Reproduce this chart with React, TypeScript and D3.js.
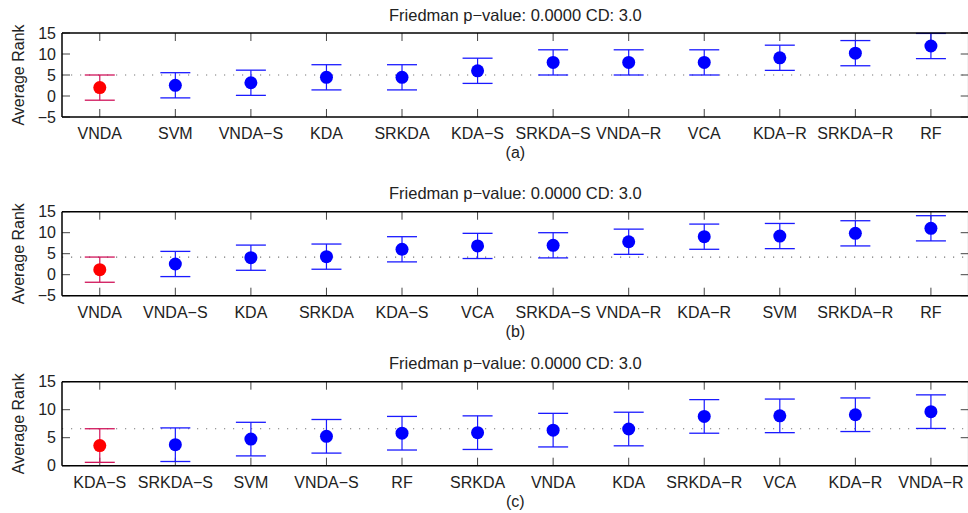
import React from "react";
import * as d3 from "d3";

const CD = 3.0;
const titleText = "Friedman p−value: 0.0000 CD: 3.0";

const catsA = ["VNDA", "SVM", "VNDA−S", "KDA", "SRKDA", "KDA−S", "SRKDA−S", "VNDA−R", "VCA", "KDA−R", "SRKDA−R", "RF"];
const ranksA = [2.0, 2.55, 3.15, 4.45, 4.45, 6.0, 8.0, 8.0, 8.0, 9.1, 10.2, 11.9];

const catsB = ["VNDA", "VNDA−S", "KDA", "SRKDA", "KDA−S", "VCA", "SRKDA−S", "VNDA−R", "KDA−R", "SVM", "SRKDA−R", "RF"];
const ranksB = [1.2, 2.55, 4.05, 4.3, 6.05, 6.85, 7.0, 7.85, 9.05, 9.2, 9.85, 11.05];

const catsC = ["KDA−S", "SRKDA−S", "SVM", "VNDA−S", "RF", "SRKDA", "VNDA", "KDA", "SRKDA−R", "VCA", "KDA−R", "VNDA−R"];
const ranksC = [3.6, 3.75, 4.75, 5.25, 5.8, 5.9, 6.35, 6.55, 8.8, 8.9, 9.1, 9.65];

const ticksAB = [-5, 0, 5, 10, 15];
const ticksC = [0, 5, 10, 15];
const panelLabels = ["(a)", "(b)", "(c)"];

const FONT = "'Liberation Sans', Arial, Helvetica, sans-serif";
const W = 968;
const H = 513;
const LEFT = 62;
const RIGHT = 968.7;
const PH = 84;

type PanelProps = {
  top: number;
  cats: string[];
  ranks: number[];
  yTicks: number[];
  label: string;
};

function Panel({ top, cats, ranks, yTicks, label }: PanelProps) {
  const x = d3.scaleLinear().domain([0.5, cats.length + 0.5]).range([LEFT, RIGHT]);
  const y = d3
    .scaleLinear()
    .domain([yTicks[0], yTicks[yTicks.length - 1]])
    .range([top + PH, top]);
  const thr = ranks[0] + CD;
  const tickLen = 8;
  const cx = (LEFT + RIGHT) / 2;
  return (
    <g>
      <text x={cx} y={top - 12.5} fontSize={16.5} textAnchor="middle" fill="#222" fontFamily={FONT}>
        {titleText}
      </text>
      {cats.map((c, i) => (
        <g key={"xt" + i}>
          <line x1={x(i + 1)} x2={x(i + 1)} y1={top + PH} y2={top + PH - tickLen} stroke="#444" strokeWidth={1} />
          <line x1={x(i + 1)} x2={x(i + 1)} y1={top} y2={top + tickLen} stroke="#444" strokeWidth={1} />
          <text x={x(i + 1)} y={top + PH + 22} fontSize={16} textAnchor="middle" fill="#222" fontFamily={FONT}>
            {c}
          </text>
        </g>
      ))}
      {yTicks.map((t) => (
        <g key={"yt" + t}>
          <line x1={LEFT} x2={LEFT + tickLen} y1={y(t)} y2={y(t)} stroke="#444" strokeWidth={1} />
          <line x1={RIGHT} x2={RIGHT - tickLen} y1={y(t)} y2={y(t)} stroke="#444" strokeWidth={1} />
          <text x={56} y={y(t) + 5.5} fontSize={16} textAnchor="end" fill="#222" fontFamily={FONT}>
            {t < 0 ? "−" + Math.abs(t) : t}
          </text>
        </g>
      ))}
      <line x1={LEFT} x2={RIGHT} y1={y(thr)} y2={y(thr)} stroke="#777" strokeWidth={1.2} strokeDasharray="1.2,7.8" />
      {ranks.map((r, i) => {
        const col = i === 0 ? "#d0145a" : "#1a1aff";
        const px = x(i + 1);
        return (
          <g key={"eb" + i}>
            <line x1={px} x2={px} y1={y(r - CD)} y2={y(r + CD)} stroke={col} strokeWidth={1.2} />
            <line x1={px - 15} x2={px + 15} y1={y(r - CD)} y2={y(r - CD)} stroke={col} strokeWidth={1.3} />
            <line x1={px - 15} x2={px + 15} y1={y(r + CD)} y2={y(r + CD)} stroke={col} strokeWidth={1.3} />
            <circle cx={px} cy={y(r)} r={6.5} fill={i === 0 ? "#ff0000" : "#0000ff"} />
          </g>
        );
      })}
      <line x1={LEFT} x2={RIGHT} y1={top} y2={top} stroke="#000" strokeWidth={1.5} />
      <line x1={LEFT} x2={RIGHT} y1={top + PH} y2={top + PH} stroke="#000" strokeWidth={1.5} />
      <line x1={LEFT} x2={LEFT} y1={top} y2={top + PH} stroke="#000" strokeWidth={1.5} />
      <line x1={RIGHT} x2={RIGHT} y1={top} y2={top + PH} stroke="#000" strokeWidth={1.5} />
      <text
        transform={`translate(24, ${top + PH / 2}) rotate(-90)`}
        fontSize={16}
        textAnchor="middle"
        fill="#222"
        fontFamily={FONT}
      >
        Average Rank
      </text>
      <text x={cx} y={top + PH + 41} fontSize={16} textAnchor="middle" fill="#222" fontFamily={FONT}>
        {label}
      </text>
    </g>
  );
}

export default function App() {
  return (
    <svg
      width={W}
      height={H}
      style={{ position: "absolute", left: 0, top: 0, background: "#fff" }}
    >
      <rect x={0} y={0} width={W} height={H} fill="#fff" />
      <Panel top={33} cats={catsA} ranks={ranksA} yTicks={ticksAB} label={panelLabels[0]} />
      <Panel top={211.7} cats={catsB} ranks={ranksB} yTicks={ticksAB} label={panelLabels[1]} />
      <Panel top={381.7} cats={catsC} ranks={ranksC} yTicks={ticksC} label={panelLabels[2]} />
    </svg>
  );
}
